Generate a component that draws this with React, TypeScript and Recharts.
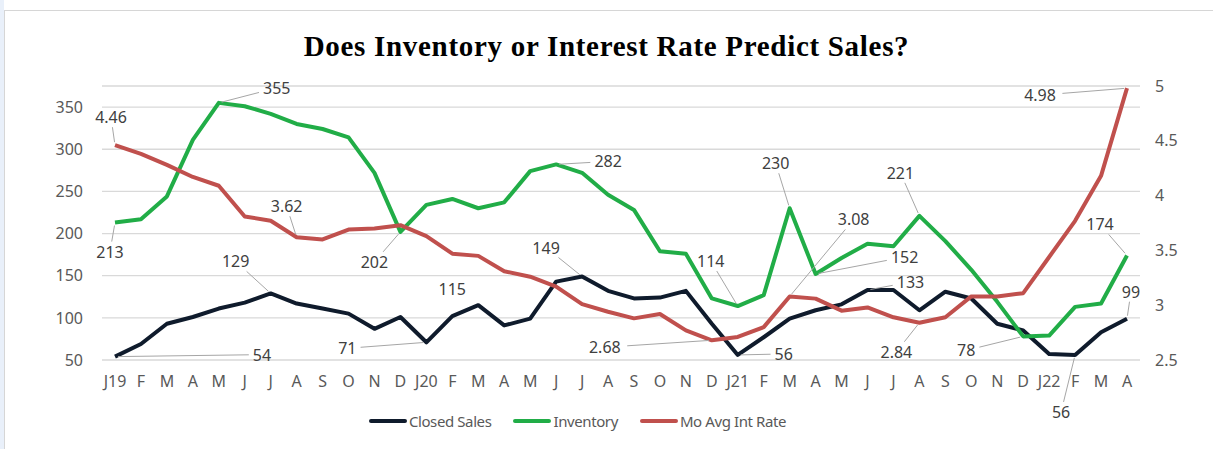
import React from "react";
import { CartesianGrid, LabelList, Line, LineChart, XAxis, YAxis } from "recharts";

const months = [
  "J19", "F", "M", "A", "M", "J", "J", "A", "S", "O", "N", "D",
  "J20", "F", "M", "A", "M", "J", "J", "A", "S", "O", "N", "D",
  "J21", "F", "M", "A", "M", "J", "J", "A", "S", "O", "N", "D",
  "J22", "F", "M", "A",
];

const closedSales = [
  54, 69, 93, 101, 111, 118, 129, 117, 111, 105, 87, 101,
  71, 102, 115, 91, 99, 143, 149, 132, 123, 124, 132, 93,
  56, 77, 99, 109, 116, 133, 133, 109, 131, 123, 93, 85,
  57, 56, 83, 99,
];

const inventory = [
  213, 217, 244, 311, 355, 351, 342, 330, 324, 314, 272, 202,
  234, 241, 230, 237, 274, 282, 272, 246, 228, 179, 176, 123,
  114, 127, 230, 152, 171, 188, 185, 221, 191, 157, 119, 78,
  79, 113, 117, 174,
];

const intRate = [
  4.46, 4.38, 4.28, 4.17, 4.09, 3.81, 3.77, 3.62, 3.6, 3.69, 3.7, 3.73,
  3.63, 3.47, 3.45, 3.31, 3.26, 3.17, 3.01, 2.94, 2.88, 2.92, 2.77, 2.68,
  2.71, 2.8, 3.08, 3.06, 2.95, 2.98, 2.89, 2.84, 2.89, 3.08, 3.08, 3.11,
  3.44, 3.77, 4.18, 4.98,
];

const leftTicks = [50, 100, 150, 200, 250, 300, 350];
const rightTicks = [2.5, 3, 3.5, 4, 4.5, 5];

const data = months.map((m, i) => ({
  month: m,
  sales: closedSales[i],
  inventory: inventory[i],
  rate: intRate[i],
}));

// label placement: index -> [dx, dy, leader?]
type Place = [number, number, boolean?];
const salesPlaces: Record<number, Place> = {
  0: [147, -2],
  6: [-35, -32],
  12: [-79, 6],
  14: [-26, -16, false],
  18: [-36, -29],
  24: [46, -1],
  29: [43, -8],
  37: [-14, 57],
  39: [4, -27],
};
const inventoryPlaces: Record<number, Place> = {
  0: [-5, 29],
  4: [58, -15],
  11: [-26, 30],
  17: [52, -3],
  24: [-27, -45],
  26: [-14, -45],
  27: [89, -17],
  31: [-19, -43],
  35: [-57, 14],
  39: [-27, -31],
};
const ratePlaces: Record<number, Place> = {
  0: [-4, -28],
  7: [-10, -31],
  23: [-107, 7],
  26: [64, -77],
  31: [-23, 29],
  39: [-87, 7],
};

const FONT = "'Noto Sans', sans-serif";
const SALES = "#0f1b2c";
const INV = "#21ad47";
const RATE = "#c0504d";

function makeLabel(places: Record<number, Place>, fmt: (v: number) => string) {
  return (props: any) => {
    const { x, y, index, value } = props;
    const p = places[index];
    if (!p || x == null || y == null) return <g key={`e-${index}`} />;
    const [dx, dy, leader] = p;
    const text = fmt(Number(value));
    const tx = x + dx;
    const ty = y + dy;
    const hw = (text.length * 9.2) / 2 + 4;
    const hh = 10;
    const s = Math.min(
      dx === 0 ? Infinity : hw / Math.abs(dx),
      dy === 0 ? Infinity : hh / Math.abs(dy)
    );
    const ex = tx - dx * s;
    const ey = ty - dy * s;
    const d = Math.hypot(dx, dy);
    const sx = x + (dx / d) * 3;
    const sy = y + (dy / d) * 3;
    const showLeader = leader !== false && Math.hypot(ex - sx, ey - sy) > 6;
    return (
      <g key={`l-${index}`}>
        {showLeader && (
          <line x1={sx} y1={sy} x2={ex} y2={ey} stroke="#a6a6a6" strokeWidth={1} />
        )}
        <text
          x={tx}
          y={ty}
          textAnchor="middle"
          dominantBaseline="central"
          fill="#404040"
          fontSize={16}
          fontFamily={FONT}
        >
          {text}
        </text>
      </g>
    );
  };
}

const legendItems = [
  { name: "Closed Sales", color: SALES },
  { name: "Inventory", color: INV },
  { name: "Mo Avg Int Rate", color: RATE },
];

export default function App() {
  const tick = { fill: "#595959", fontSize: 16, fontFamily: FONT };
  return (
    <div style={{ position: "relative", width: 1213, height: 449, background: "#fff", overflow: "hidden" }}>
      <style>{`body{margin:0}`}</style>
      <div style={{ position: "absolute", left: 0, top: 0, width: 4, height: 449, background: "#e9f0fa" }} />
      <div
        style={{
          position: "absolute",
          left: 4,
          top: 10,
          width: 1230,
          height: 460,
          borderLeft: "1px solid #d6d6d6",
          borderTop: "1px solid #d6d6d6",
        }}
      />
      <div
        style={{
          position: "absolute",
          top: 30,
          left: 0,
          width: 1213,
          textAlign: "center",
          fontFamily: "'Liberation Serif', serif",
          fontWeight: "bold",
          fontSize: 29,
          letterSpacing: 0.7,
          lineHeight: "32px",
          color: "#000",
        }}
      >
        Does Inventory or Interest Rate Predict Sales?
      </div>
      <div style={{ position: "absolute", left: 0, top: 0 }}>
        <LineChart width={1213} height={449} data={data} margin={{ top: 86, right: 13, bottom: 59, left: 0 }}>
          <CartesianGrid yAxisId="left" vertical={false} stroke="#d9d9d9" strokeWidth={1.3} />
          <XAxis
            dataKey="month"
            interval={0}
            tick={tick}
            tickLine={false}
            axisLine={false}
            tickSize={0}
            tickMargin={16}
            height={30}
            padding={{ left: 13, right: 13 }}
          />
          <YAxis
            yAxisId="left"
            domain={[50, 375]}
            ticks={leftTicks}
            tick={tick}
            tickLine={false}
            axisLine={false}
            tickSize={0}
            tickMargin={19}
            width={102}
          />
          <YAxis
            yAxisId="right"
            orientation="right"
            domain={[2.5, 5]}
            ticks={rightTicks}
            tick={tick}
            tickLine={false}
            axisLine={false}
            tickSize={0}
            tickMargin={15}
            width={60}
          />
          <Line
            yAxisId="left"
            dataKey="sales"
            stroke={SALES}
            strokeWidth={4}
            dot={false}
            strokeLinejoin="round"
            isAnimationActive={false}
          >
            <LabelList dataKey="sales" content={makeLabel(salesPlaces, (v) => String(v))} />
          </Line>
          <Line
            yAxisId="left"
            dataKey="inventory"
            stroke={INV}
            strokeWidth={4}
            dot={false}
            strokeLinejoin="round"
            isAnimationActive={false}
          >
            <LabelList dataKey="inventory" content={makeLabel(inventoryPlaces, (v) => String(v))} />
          </Line>
          <Line
            yAxisId="right"
            dataKey="rate"
            stroke={RATE}
            strokeWidth={4}
            dot={false}
            strokeLinejoin="round"
            isAnimationActive={false}
          >
            <LabelList dataKey="rate" content={makeLabel(ratePlaces, (v) => v.toFixed(2))} />
          </Line>
        </LineChart>
      </div>
      <div
        style={{
          position: "absolute",
          top: 411,
          left: 0,
          width: 1213,
          display: "flex",
          justifyContent: "center",
          gap: 22,
          fontFamily: FONT,
          fontSize: 15,
          color: "#595959",
          boxSizing: "border-box",
          paddingRight: 58,
        }}
      >
        {legendItems.map((it) => (
          <div key={it.name} style={{ display: "flex", alignItems: "center" }}>
            <span
              style={{
                display: "inline-block",
                width: 38,
                height: 4,
                borderRadius: 2,
                background: it.color,
                marginRight: 2,
              }}
            />
            <span style={{ letterSpacing: -0.4 }}>{it.name}</span>
          </div>
        ))}
      </div>
    </div>
  );
}
